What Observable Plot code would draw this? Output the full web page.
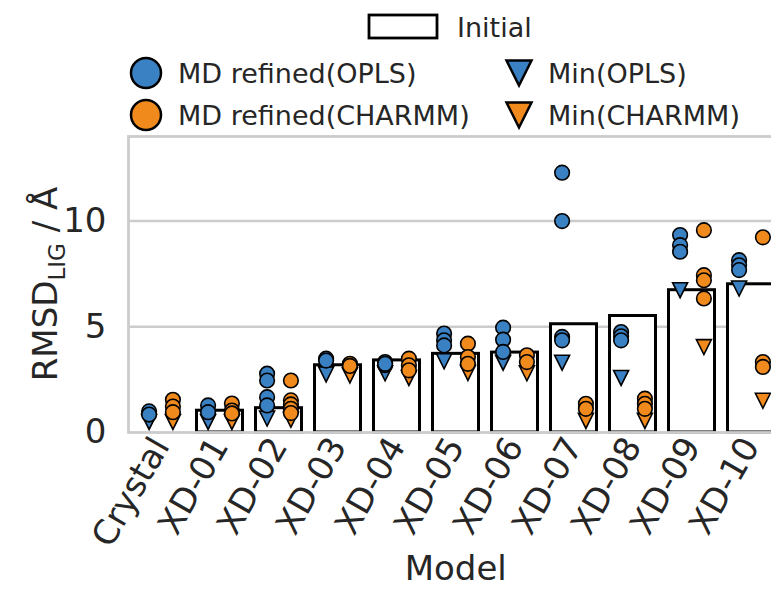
<!DOCTYPE html>
<html>
<head>
<meta charset="utf-8">
<script src="https://cdn.jsdelivr.net/npm/d3@7"></script>
<script src="https://cdn.jsdelivr.net/npm/@observablehq/plot@0.6"></script>
<style>
  html, body { margin: 0; padding: 0; background: #fff; overflow: hidden; width: 771px; height: 590px; }
  #legend { width: 771px; height: 130px; }
  #legend svg, #chart svg { display: block; overflow: visible; max-width: none !important; }
</style>
</head>
<body>
<div id="legend"></div>
<div id="chart"></div>
<script>
// Ligand RMSD per model: initial pose, MD-refined replicas and minimised structures
const models = ["Crystal", "XD-01", "XD-02", "XD-03", "XD-04", "XD-05", "XD-06", "XD-07", "XD-08", "XD-09", "XD-10"];
const initial = [0, 1.03, 1.15, 3.18, 3.41, 3.72, 3.78, 5.12, 5.51, 6.73, 7.01];

const mdOPLS = [
  [1.0, 0.85],
  [1.28, 0.96],
  [2.78, 2.46, 1.67, 1.28],
  [3.49, 3.40],
  [3.33, 3.18, 3.25],
  [4.68, 4.36, 4.12],
  [4.96, 4.39, 3.81],
  [12.29, 10.0, 4.52, 4.36],
  [4.75, 4.55, 4.36],
  [9.34, 8.86, 8.55],
  [8.15, 7.91, 7.68]
];
const mdCHARMM = [
  [1.55, 1.23, 0.96],
  [1.37, 1.04, 0.9],
  [2.46, 1.52, 1.33, 1.12, 0.92],
  [3.25, 3.15],
  [3.49, 3.18, 2.94],
  [4.2, 3.57, 3.25],
  [3.65, 3.33],
  [1.36, 1.12],
  [1.6, 1.36, 1.12],
  [9.57, 7.44, 7.2, 6.34],
  [9.23, 3.33, 3.1]
];
const minOPLS = [0.5, 0.5, 0.66, 2.75, 2.8, 3.37, 3.3, 3.3, 2.58, 6.73, 6.81];
const minCHARMM = [0.5, 0.5, 0.6, 2.7, 2.58, 2.82, 2.8, 0.55, 0.55, 4.04, 1.5];

const yTicks = [0, 5, 10];

const BLUE = "#3a81c3";
const ORANGE = "#f08a1d";
const INK = "#262626";
const FONT = "DejaVu Sans, sans-serif";

// Downward-pointing triangle symbol for the minimised structures
const triangleDown = {
  draw(context, size) {
    const r = Math.sqrt(size / Math.PI);
    context.moveTo(-r, -r);
    context.lineTo(r, -r);
    context.lineTo(0, r);
    context.closePath();
  }
};

const barRows = models.map((m, i) => ({model: m, value: initial[i]})).filter(d => d.value > 0);
const flatten = (arr) => models.flatMap((m, i) => arr[i].map(v => ({model: m, value: v})));
const pairs = (arr) => models.map((m, i) => ({model: m, value: arr[i]}));

// Layout
const W = 785, H = 460;
const mL = 128, mR = 2.5, mT = 6, mB = 158;
const step = (W - mL - mR) / models.length;
const dodge = 0.2 * step;

const plot = Plot.plot({
  width: W,
  height: H,
  marginLeft: mL,
  marginRight: mR,
  marginTop: mT,
  marginBottom: mB,
  style: {fontFamily: FONT, color: INK, background: "white", overflow: "visible", maxWidth: "none"},
  x: {domain: models, padding: 0, label: null},
  y: {domain: [0, 14], label: null},
  marks: [
    Plot.ruleY([5, 10], {stroke: "#cccccc", strokeWidth: 2.5}),
    Plot.barY(barRows, {x: "model", y: "value", fill: "white", stroke: "black", strokeWidth: 3, insetLeft: 6.5, insetRight: 6.5}),
    Plot.frame({stroke: "#cccccc", strokeWidth: 2.8}),
    Plot.dot(pairs(minOPLS), {x: "model", y: "value", dx: -dodge, symbol: triangleDown, r: 7.5, fill: BLUE, stroke: "black", strokeWidth: 1.6}),
    Plot.dot(pairs(minCHARMM), {x: "model", y: "value", dx: dodge, symbol: triangleDown, r: 7.5, fill: ORANGE, stroke: "black", strokeWidth: 1.6}),
    Plot.dot(flatten(mdOPLS), {x: "model", y: "value", dx: -dodge, r: 7.3, fill: BLUE, stroke: "black", strokeWidth: 1.6}),
    Plot.dot(flatten(mdCHARMM), {x: "model", y: "value", dx: dodge, r: 7.3, fill: ORANGE, stroke: "black", strokeWidth: 1.6}),
    Plot.axisY({ticks: yTicks, tickSize: 0, tickPadding: 22, fontSize: 34, label: null}),
    Plot.axisX({tickSize: 0, tickPadding: 8, dx: 0, tickRotate: -60, fontSize: 34, label: null}),
    Plot.text(["Model"], {text: d => d, frameAnchor: "bottom", dy: 147, lineAnchor: "bottom", fontSize: 34, fill: INK})
  ]
});
document.getElementById("chart").appendChild(plot);

// Y axis title with subscript
const svg = d3.select(plot);
const yTitle = svg.append("text")
  .attr("transform", `translate(57, ${mT + (H - mT - mB) / 2}) rotate(-90)`)
  .attr("text-anchor", "middle")
  .attr("font-family", FONT)
  .attr("font-size", 34)
  .attr("fill", INK);
yTitle.append("tspan").text("RMSD");
yTitle.append("tspan").attr("font-size", 23).attr("dy", 8).text("LIG");
yTitle.append("tspan").attr("dy", -8).text(" / Å");

// Legend above the chart
const lg = d3.select("#legend").append("svg").attr("width", 771).attr("height", 130)
  .attr("font-family", FONT).attr("font-size", 27).attr("fill", INK);
lg.append("rect").attr("x", 369).attr("y", 15).attr("width", 68).attr("height", 23)
  .attr("fill", "white").attr("stroke", "black").attr("stroke-width", 2.8);
lg.append("text").attr("x", 457).attr("y", 37).text("Initial");

const circleItems = [
  {label: "MD refined(OPLS)", color: BLUE, y: 73},
  {label: "MD refined(CHARMM)", color: ORANGE, y: 115}
];
const triItems = [
  {label: "Min(OPLS)", color: BLUE, y: 73},
  {label: "Min(CHARMM)", color: ORANGE, y: 115}
];
for (const it of circleItems) {
  lg.append("circle").attr("cx", 146).attr("cy", it.y).attr("r", 15)
    .attr("fill", it.color).attr("stroke", "black").attr("stroke-width", 2.5);
  lg.append("text").attr("x", 178).attr("y", it.y + 10).text(it.label);
}
for (const it of triItems) {
  const s = 12.5;
  lg.append("path")
    .attr("d", `M${519 - s},${it.y - s}L${519 + s},${it.y - s}L519,${it.y + s}Z`)
    .attr("fill", it.color).attr("stroke", "black").attr("stroke-width", 2.5).attr("stroke-linejoin", "miter");
  lg.append("text").attr("x", 548).attr("y", it.y + 10).text(it.label);
}
</script>
</body>
</html>
